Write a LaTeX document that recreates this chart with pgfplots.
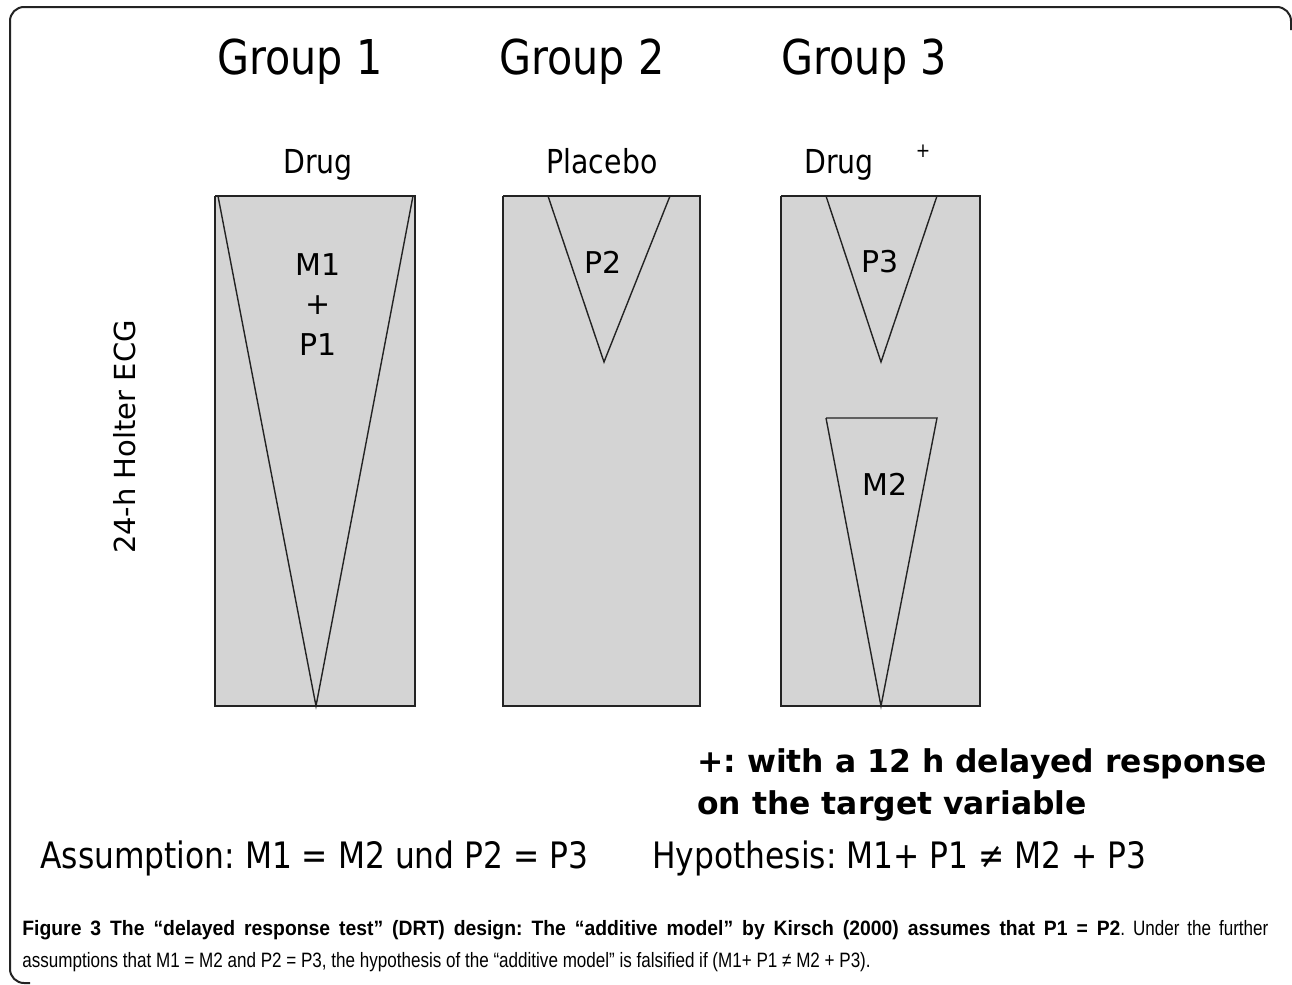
\documentclass[border=0pt]{standalone}
\usepackage{fontspec}
\setmainfont{DejaVu Sans}
\newfontfamily\tah[FakeStretch=0.86]{DejaVu Sans}
\newfontfamily\capfont[FakeStretch=0.82]{Liberation Sans}
\newfontfamily\capbold[FakeStretch=0.93]{Liberation Sans Bold}
\usepackage{pgfplots}
\pgfplotsset{compat=1.18}
\definecolor{boxgray}{RGB}{212,212,212}
\definecolor{edge}{RGB}{35,35,35}
\begin{document}
\frenchspacing
\begin{tikzpicture}
\begin{axis}[width=646pt,height=492.5pt,scale only axis,
  xmin=0,xmax=1292,ymin=0,ymax=985,y dir=reverse,hide axis,clip=false]
\path (axis cs:0,0) rectangle (axis cs:1292,985);
% frame
\draw[edge,line width=1pt,rounded corners=7pt] (axis cs:1291,30) -- (axis cs:1291,7) -- (axis cs:10,7) -- (axis cs:10,983) -- (axis cs:30,983);
% boxes
\addplot[fill=boxgray,draw=edge,line width=1pt,line join=miter] coordinates {(215,196) (415,196) (415,706) (215,706) (215,196)};
\addplot[fill=boxgray,draw=edge,line width=1pt,line join=miter] coordinates {(503,196) (700,196) (700,706) (503,706) (503,196)};
\addplot[fill=boxgray,draw=edge,line width=1pt,line join=miter] coordinates {(781,196) (980,196) (980,706) (781,706) (781,196)};
% triangles
\addplot[draw=edge,line width=0.7pt] coordinates {(218,196) (316,706) (413,196)};
\addplot[draw=edge,line width=0.7pt] coordinates {(548,196) (604,362) (670,196)};
\addplot[draw=edge,line width=0.7pt] coordinates {(826,196) (881,362) (937,196)};
\addplot[draw=edge,line width=0.7pt] coordinates {(826,418) (937,418) (881,706) (826,418)};
% texts
\node[anchor=base,inner sep=0pt] at (axis cs:300,74) {\tah\fontsize{24}{28}\selectfont Group 1};
\node[anchor=base,inner sep=0pt] at (axis cs:582,74) {\tah\fontsize{24}{28}\selectfont Group 2};
\node[anchor=base,inner sep=0pt] at (axis cs:864,74) {\tah\fontsize{24}{28}\selectfont Group 3};
\node[anchor=base,inner sep=0pt] at (axis cs:318,173) {\tah\fontsize{16.5}{18}\selectfont Drug};
\node[anchor=base,inner sep=0pt] at (axis cs:602,173) {\tah\fontsize{16.5}{18}\selectfont Placebo};
\node[anchor=base,inner sep=0pt] at (axis cs:839,173) {\tah\fontsize{16.5}{18}\selectfont Drug};
\node[anchor=base,inner sep=0pt] at (axis cs:923,157) {\tah\fontsize{10}{10}\selectfont +};
\node at (axis cs:318,265) {\fontsize{15}{16}\selectfont M1};
\node at (axis cs:318,305) {\fontsize{15}{16}\selectfont +};
\node at (axis cs:318,345) {\fontsize{15}{16}\selectfont P1};
\node at (axis cs:603,262) {\fontsize{15}{16}\selectfont P2};
\node at (axis cs:880,262) {\fontsize{15}{16}\selectfont P3};
\node at (axis cs:885,484) {\fontsize{15}{16}\selectfont M2};
\node[rotate=90] at (axis cs:125,437) {\fontsize{14.5}{16}\selectfont 24-h Holter ECG};
\node[anchor=base west,inner sep=0pt] at (axis cs:697,772) {\fontsize{15.7}{18}\selectfont\bfseries +: with a 12 h delayed response};
\node[anchor=base west,inner sep=0pt] at (axis cs:697,814) {\fontsize{15.7}{18}\selectfont\bfseries on the target variable};
\node[anchor=base west,inner sep=0pt] at (axis cs:40,868) {\tah\fontsize{18.2}{20}\selectfont Assumption: M1 = M2 und P2 = P3};
\node[anchor=base west,inner sep=0pt] at (axis cs:652,868) {\tah\fontsize{18.2}{20}\selectfont Hypothesis: M1+ P1 ≠ M2 + P3};
\node[anchor=base west,inner sep=0pt] at (axis cs:22,935) {\fontsize{10.4}{12}\selectfont\makebox[623pt][s]{\capbold Figure 3 The “delayed response test” (DRT) design: The “additive model” by Kirsch (2000) assumes that P1 = P2\capfont. Under the further}};
\node[anchor=base west,inner sep=0pt] at (axis cs:22,967) {\capfont\fontsize{10.4}{12}\selectfont assumptions that M1 = M2 and P2 = P3, the hypothesis of the “additive model” is falsified if (M1+ P1 ≠ M2 + P3).};
\end{axis}
\end{tikzpicture}
\end{document}
